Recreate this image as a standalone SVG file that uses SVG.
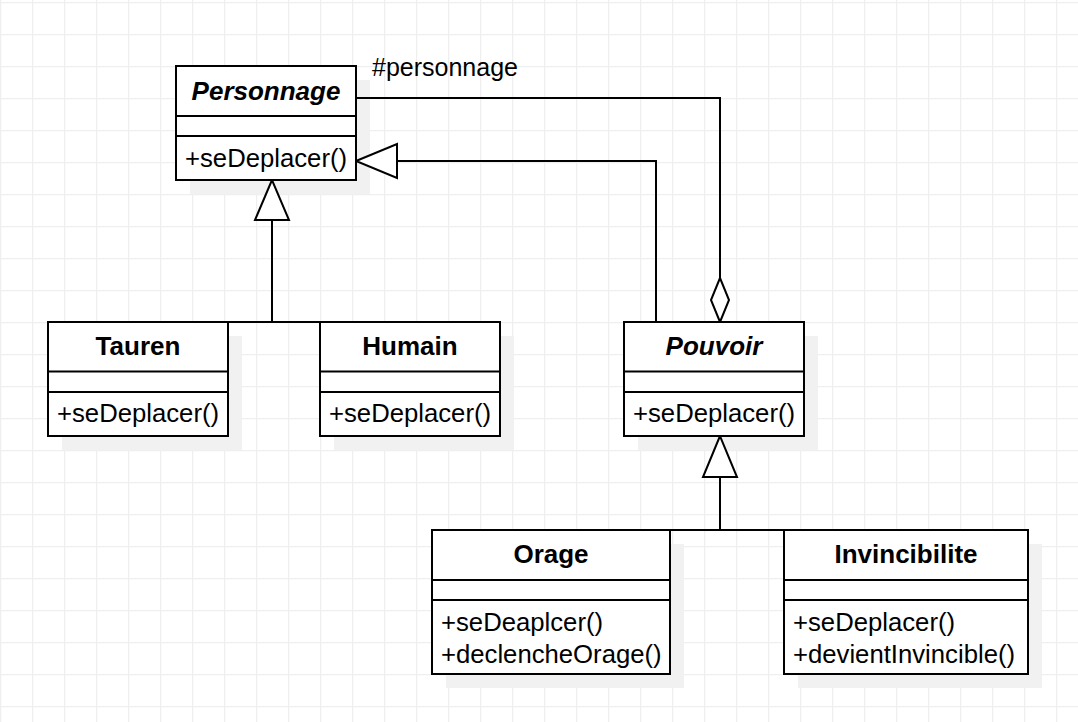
<svg xmlns="http://www.w3.org/2000/svg" width="1078" height="722" viewBox="0 0 1078 722">
  <defs>
    <pattern id="grid" x="0" y="2" width="32" height="32" patternUnits="userSpaceOnUse">
      <path d="M0.5 0 V32 M0 0.5 H32" fill="none" stroke="#efefef" stroke-width="1.5"/>
    </pattern>
    <style>
      .box { fill: #ffffff; stroke: #000000; stroke-width: 2; }
      .shadow { fill: #f1f1f1; stroke: none; }
      .div { stroke: #000000; stroke-width: 2; fill: none; }
      .edge { stroke: #000000; stroke-width: 2; fill: none; }
      .head { fill: #ffffff; stroke: #000000; stroke-width: 2; }
      .title { font-family: "Liberation Sans", Arial, sans-serif; font-size: 26px; font-weight: bold; text-anchor: middle; fill: #000; }
      .abstract { font-style: italic; }
      .op { font-family: "Liberation Sans", Arial, sans-serif; font-size: 25.7px; fill: #000; }
      .lbl { font-family: "Liberation Sans", Arial, sans-serif; font-size: 25px; fill: #000; }
    </style>
  </defs>
  <rect width="1078" height="722" fill="#ffffff"/>
  <rect width="1078" height="722" fill="url(#grid)"/>

  <g id="shadows">
    <rect class="shadow" x="190" y="80" width="180" height="114"/>
    <rect class="shadow" x="62" y="336" width="180" height="114"/>
    <rect class="shadow" x="334" y="336" width="180" height="114"/>
    <rect class="shadow" x="638" y="336" width="180" height="114"/>
    <rect class="shadow" x="446" y="544" width="238" height="144"/>
    <rect class="shadow" x="798" y="544" width="244" height="144"/>
  </g>

  <g id="connectors">
    <!-- Tauren / Humain generalization to Personnage -->
    <path class="edge" d="M138 322 H410 M272 322 V220"/>
    <polygon class="head" points="272,180 255,220 289,220"/>
    <!-- Pouvoir generalization to Personnage -->
    <path class="edge" d="M656 322 V161 H397"/>
    <polygon class="head" points="356,161 397,144 397,178"/>
    <!-- Aggregation Personnage - Pouvoir -->
    <path class="edge" d="M356 98 H720 V278"/>
    <polygon class="head" points="720,278 729,300 720,322 711,300"/>
    <text class="lbl" x="372" y="76">#personnage</text>
    <!-- Orage / Invincibilite generalization to Pouvoir -->
    <path class="edge" d="M551 530 H906 M720 530 V477"/>
    <polygon class="head" points="720,436 703,477 737,477"/>
  </g>

  <g id="Personnage">
    <rect class="box" x="176" y="66" width="180" height="114"/>
    <path class="div" d="M176 116 H356 M176 136 H356"/>
    <text class="title abstract" x="266" y="100">Personnage</text>
    <text class="op" x="185" y="167">+seDeplacer()</text>
  </g>

  <g id="Tauren">
    <rect class="box" x="48" y="322" width="180" height="114"/>
    <path class="div" d="M48 371.5 H228 M48 392 H228"/>
    <text class="title" x="138" y="355">Tauren</text>
    <text class="op" x="57" y="422">+seDeplacer()</text>
  </g>

  <g id="Humain">
    <rect class="box" x="320" y="322" width="180" height="114"/>
    <path class="div" d="M320 371.5 H500 M320 392 H500"/>
    <text class="title" x="410" y="355">Humain</text>
    <text class="op" x="329" y="422">+seDeplacer()</text>
  </g>

  <g id="Pouvoir">
    <rect class="box" x="624" y="322" width="180" height="114"/>
    <path class="div" d="M624 371.5 H804 M624 392 H804"/>
    <text class="title abstract" x="714" y="355">Pouvoir</text>
    <text class="op" x="633" y="422">+seDeplacer()</text>
  </g>

  <g id="Orage">
    <rect class="box" x="432" y="530" width="238" height="144"/>
    <path class="div" d="M432 580 H670 M432 600 H670"/>
    <text class="title" x="551" y="563">Orage</text>
    <text class="op" x="441" y="631">+seDeaplcer()</text>
    <text class="op" x="441" y="663">+declencheOrage()</text>
  </g>

  <g id="Invincibilite">
    <rect class="box" x="784" y="530" width="244" height="144"/>
    <path class="div" d="M784 580 H1028 M784 600 H1028"/>
    <text class="title" x="906" y="563">Invincibilite</text>
    <text class="op" x="793" y="631">+seDeplacer()</text>
    <text class="op" x="793" y="663">+devientInvincible()</text>
  </g>
</svg>
